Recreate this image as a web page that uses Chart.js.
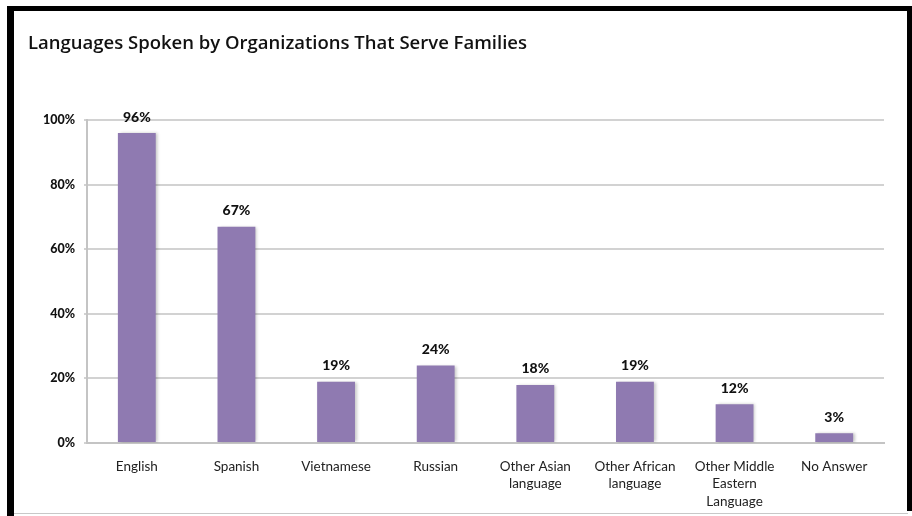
<!DOCTYPE html>
<html>
<head>
<meta charset="utf-8">
<script src="https://cdn.jsdelivr.net/npm/chart.js@4.4.1/dist/chart.umd.min.js"></script>
<style>
  html, body { margin: 0; padding: 0; background: #fff; }
  #wrap { width: 912px; height: 516px; }
</style>
</head>
<body>
<div id="wrap"><canvas id="languages-chart" width="912" height="516"></canvas></div>
<script>
// Share of organizations speaking each language
let languages = ['English', 'Spanish', 'Vietnamese', 'Russian',
  ['Other Asian', 'language'], ['Other African', 'language'],
  ['Other Middle', 'Eastern', 'Language'], 'No Answer']
let percents = [96, 67, 19, 24, 18, 19, 12, 3]
let yTicks = [0, 20, 40, 60, 80, 100]

let barColor = '#8f7ab1'

// Black frame round the slide area
let framePlugin = {
  id: 'frame',
  beforeDraw(chart) {
    let c = chart.ctx
    c.save()
    c.fillStyle = '#fff'
    c.fillRect(0, 0, chart.width, chart.height)
    c.fillStyle = '#000'
    c.fillRect(7, 6, 906, 5)      // top
    c.fillRect(7, 6, 7, 510)      // left
    c.fillRect(907, 6, 5, 505)    // right
    c.fillStyle = '#c8c8c8'
    c.fillRect(14, 513, 894, 1)   // bottom
    c.restore()
  }
}

// Soft shadow behind the bars
let shadowPlugin = {
  id: 'barShadow',
  beforeDatasetsDraw(chart) {
    let c = chart.ctx
    c.save()
    c.shadowColor = 'rgba(0,0,0,0.22)'
    c.shadowBlur = 3
    c.shadowOffsetX = 2
    c.shadowOffsetY = 0
  },
  afterDatasetsDraw(chart) {
    chart.ctx.restore()
  }
}

// Percent labels above each bar
let valueLabels = {
  id: 'valueLabels',
  afterDatasetsDraw(chart) {
    let c = chart.ctx
    let meta = chart.getDatasetMeta(0)
    c.save()
    c.font = '900 14px Lato'
    c.fillStyle = '#111'
    c.textAlign = 'center'
    c.textBaseline = 'middle'
    meta.data.forEach(function(bar, i) {
      c.fillText(percents[i] + '%', bar.x, bar.y - 16)
    })
    c.restore()
  }
}

let ctx = document.querySelector('#languages-chart').getContext('2d')

let languagesChart = new Chart(ctx, {
  type: 'bar',
  data: {
    labels: languages,
    datasets: [{
      data: percents,
      backgroundColor: barColor,
      borderWidth: 0,
      categoryPercentage: 1,
      barPercentage: 0.38
    }]
  },
  options: {
    responsive: false,
    animation: false,
    layout: { padding: { left: 28, right: 28, top: 0, bottom: 0 } },
    plugins: {
      legend: { display: false },
      tooltip: { enabled: false },
      title: {
        display: true,
        text: 'Languages Spoken by Organizations That Serve Families',
        align: 'start',
        color: '#111',
        font: { family: 'Open Sans', size: 18.5, weight: '600' },
        padding: { top: 33, bottom: 65 }
      }
    },
    scales: {
      x: {
        grid: { display: false },
        border: { display: true, color: '#c4c4c4', width: 2 },
        ticks: {
          color: '#222',
          font: { family: 'Lato', size: 13.5, lineHeight: 1.28 },
          padding: 7,
          maxRotation: 0,
          autoSkip: false
        },
        afterFit(scale) { scale.height = 73 }
      },
      y: {
        min: 0,
        max: 100,
        afterBuildTicks(scale) {
          scale.ticks = yTicks.map(v => ({ value: v }))
        },
        grid: { color: '#d2d2d2', lineWidth: 2, tickLength: 3 },
        border: { display: true, color: '#c4c4c4', width: 2 },
        ticks: {
          color: '#111',
          font: { family: 'Lato', size: 12.5, weight: '900' },
          padding: 9,
          callback: v => v + '%'
        },
        afterFit(scale) { scale.width = 59 }
      }
    }
  },
  plugins: [framePlugin, shadowPlugin, valueLabels]
})
</script>
</body>
</html>
